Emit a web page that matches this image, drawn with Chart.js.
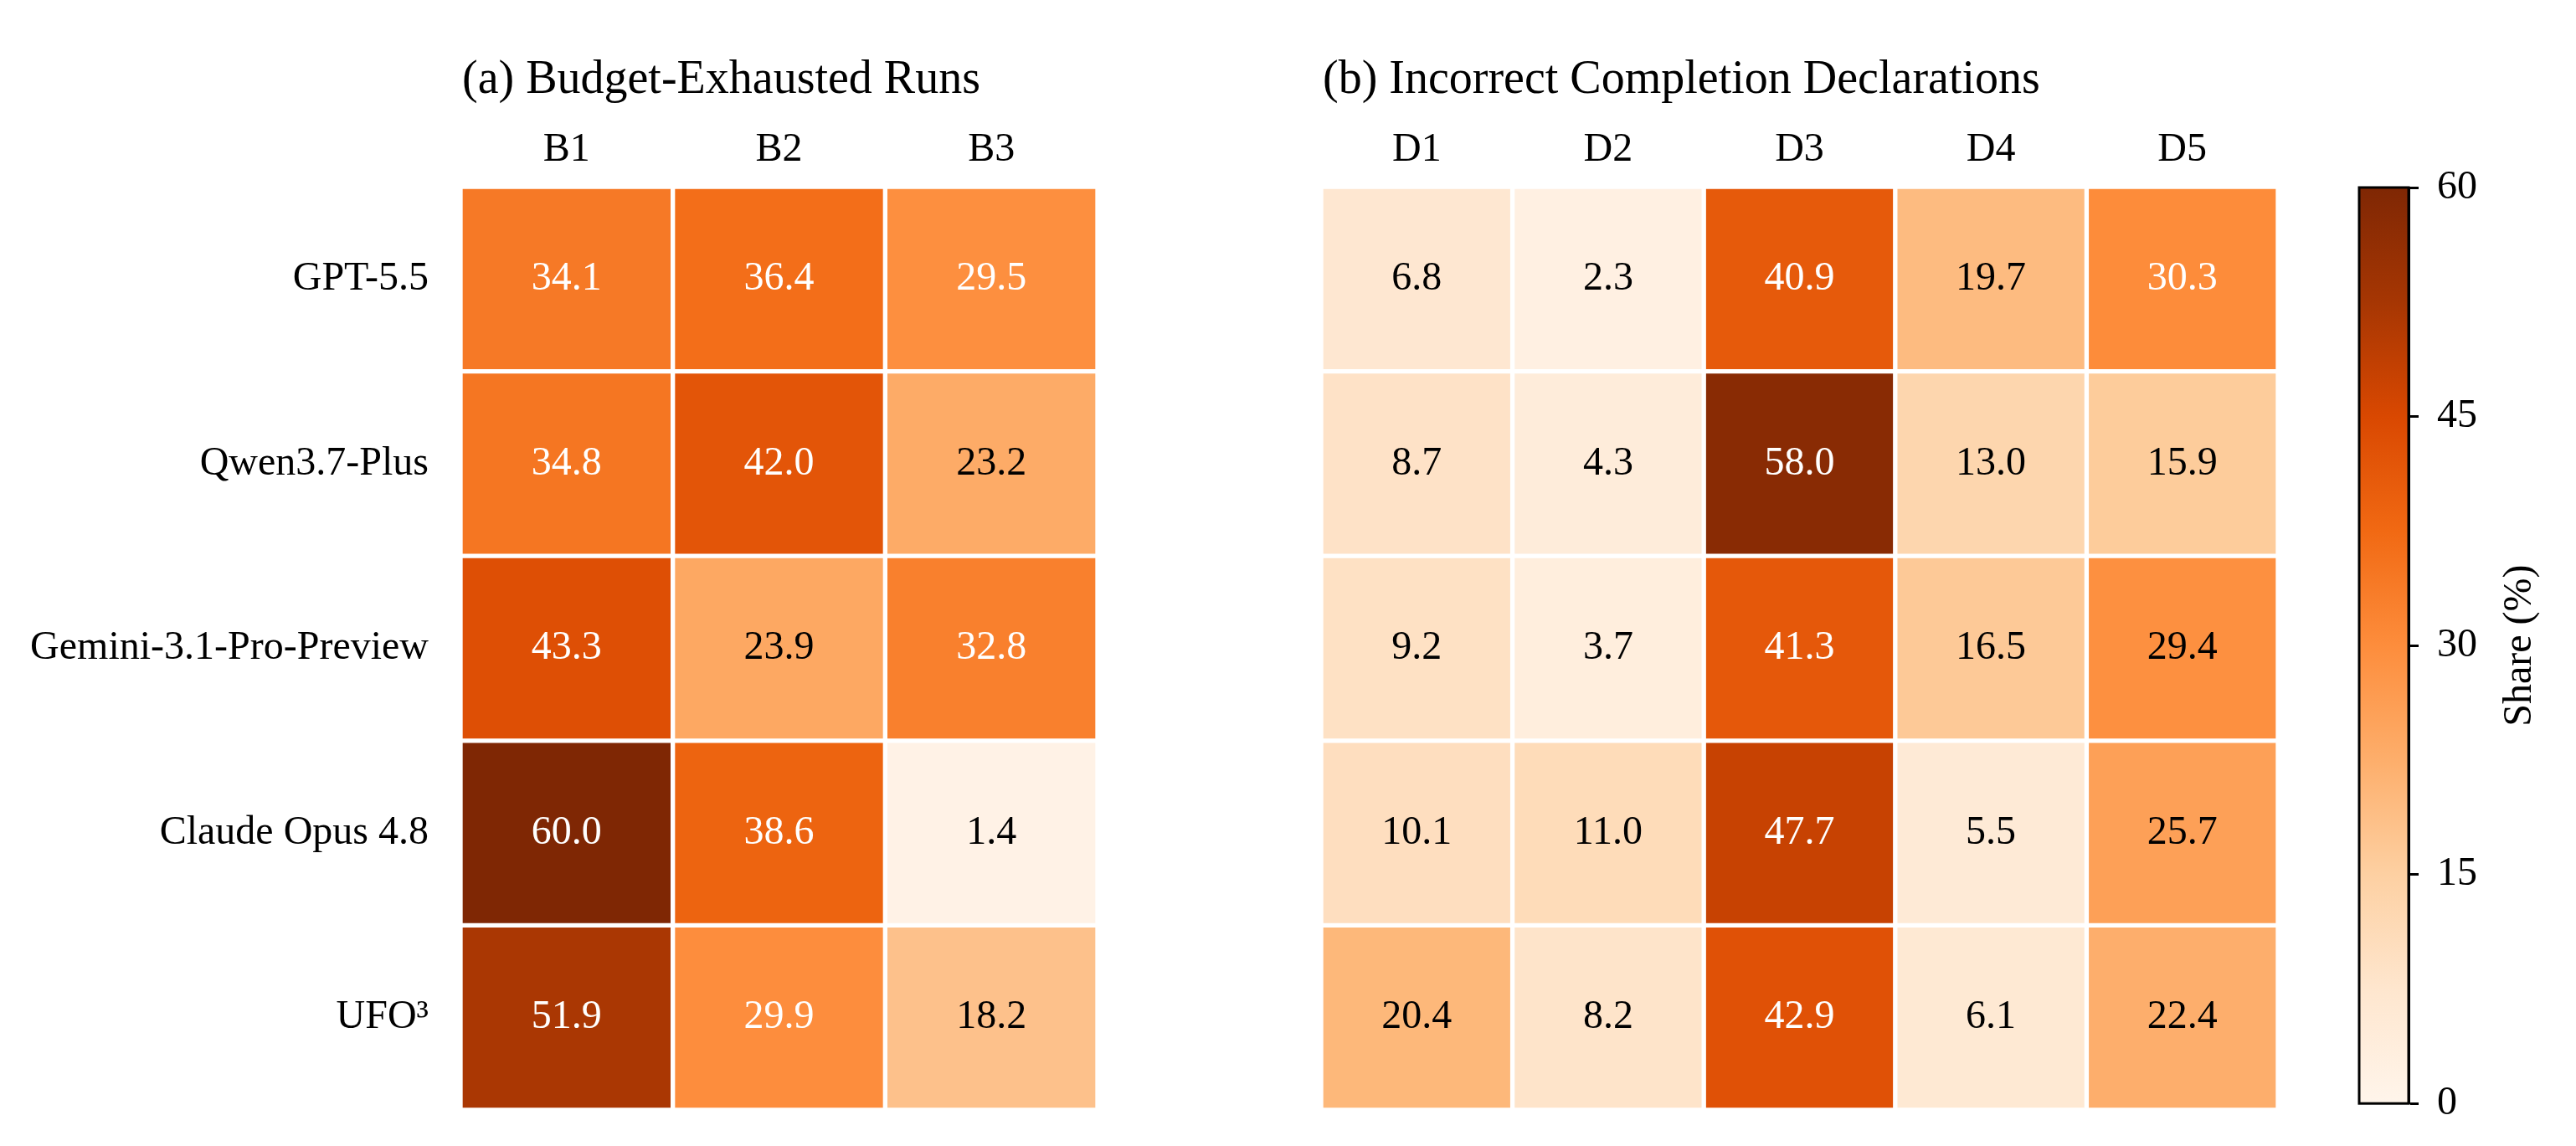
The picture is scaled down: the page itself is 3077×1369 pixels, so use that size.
<!DOCTYPE html>
<html>
<head>
<meta charset="utf-8">
<title>Budget-exhausted runs and incorrect completion declarations</title>
<script src="https://cdn.jsdelivr.net/npm/chart.js@4.4.1/dist/chart.umd.min.js"></script>
<style>
  body { margin: 0; background: #fff; }
  #wrap { position: relative; width: 3077px; height: 1369px; }
  canvas { position: absolute; top: 0; }
</style>
</head>
<body>
<div id="wrap">
  <canvas id="budgetChart" width="1340" height="1369" style="left:0px"></canvas>
  <canvas id="declChart" width="1420" height="1369" style="left:1340px"></canvas>
  <canvas id="cbarChart" width="317" height="1369" style="left:2760px"></canvas>
</div>
<script>
const models = ["GPT-5.5", "Qwen3.7-Plus", "Gemini-3.1-Pro-Preview", "Claude Opus 4.8", "UFO³"];
const budgetCols = ["B1", "B2", "B3"];
const declCols = ["D1", "D2", "D3", "D4", "D5"];
// share (%), one row per model
const budgetShare = [
    [34.1, 36.4, 29.5],
    [34.8, 42.0, 23.2],
    [43.3, 23.9, 32.8],
    [60.0, 38.6, 1.4],
    [51.9, 29.9, 18.2],
];
const declShare = [
    [6.8, 2.3, 40.9, 19.7, 30.3],
    [8.7, 4.3, 58.0, 13.0, 15.9],
    [9.2, 3.7, 41.3, 16.5, 29.4],
    [10.1, 11.0, 47.7, 5.5, 25.7],
    [20.4, 8.2, 42.9, 6.1, 22.4],
];
const shareMin = 0;
const shareMax = 60;
const cbarTicks = [0, 15, 30, 45, 60];

const FONT = "'Liberation Serif', 'Times New Roman', serif";
Chart.defaults.font.family = FONT;
Chart.defaults.color = "#000";

// matplotlib "Oranges"
const ORANGES = ["#fff5eb", "#fee6ce", "#fdd0a2", "#fdae6b", "#fd8d3c", "#f16913", "#d94801", "#a63603", "#7f2704"];

function hexRgb(h) {
    return [1, 3, 5].map((i) => parseInt(h.substr(i, 2), 16));
}
function orange(v) {
    let t = (v - shareMin) / (shareMax - shareMin);
    t = Math.min(1, Math.max(0, t)) * (ORANGES.length - 1);
    const i = Math.min(Math.floor(t), ORANGES.length - 2);
    const f = t - i;
    const a = hexRgb(ORANGES[i]), b = hexRgb(ORANGES[i + 1]);
    const c = a.map((x, k) => Math.round(x + (b[k] - x) * f));
    return "rgb(" + c[0] + "," + c[1] + "," + c[2] + ")";
}
// light text on the darker half of the scale
function textColour(v) {
    return (v - shareMin) / (shareMax - shareMin) > 0.49 ? "#fff" : "#000";
}

const panelTitle = {
    id: "panelTitle",
    afterDraw(chart, args, opts) {
        if (!opts.text) return;
        const ctx = chart.ctx;
        ctx.save();
        ctx.font = "56px " + FONT;
        ctx.fillStyle = "#000";
        ctx.textAlign = "left";
        ctx.textBaseline = "alphabetic";
        ctx.fillText(opts.text, chart.chartArea.left + 2, 111);
        ctx.restore();
    },
};

const cellLabels = {
    id: "cellLabels",
    afterDatasetsDraw(chart) {
        const ctx = chart.ctx;
        ctx.save();
        ctx.font = "48px " + FONT;
        ctx.textAlign = "center";
        ctx.textBaseline = "middle";
        chart.data.datasets.forEach((ds, i) => {
            if (!ds.shares) return;
            chart.getDatasetMeta(i).data.forEach((bar, j) => {
                const p = bar.getProps(["x", "y", "base"], true);
                const v = ds.shares[j];
                ctx.fillStyle = textColour(v);
                ctx.fillText(v.toFixed(1), p.x, (p.y + p.base) / 2);
            });
        });
        ctx.restore();
    },
};

function heatmap(canvasId, cols, shares, title, opts) {
    const datasets = models.map((name, i) => ({
        label: name,
        data: cols.map(() => [i, i + 1]),
        shares: shares[i],
        backgroundColor: shares[i].map(orange),
        borderColor: "#fff",
        borderWidth: 3,
        borderSkipped: false,
        grouped: false,
        barPercentage: 1,
        categoryPercentage: 1,
    }));

    return new Chart(document.getElementById(canvasId), {
        type: "bar",
        data: { labels: cols, datasets: datasets },
        options: {
            responsive: false,
            animation: false,
            layout: { padding: opts.padding },
            plugins: {
                legend: { display: false },
                tooltip: { enabled: false },
                panelTitle: { text: title },
            },
            scales: {
                x: {
                    position: "top",
                    grid: { display: false },
                    border: { display: false },
                    ticks: { font: { size: 48 }, padding: 7, maxRotation: 0 },
                    afterFit: (s) => {
                        s.height = 223;
                        s.paddingLeft = 0;
                        s.paddingRight = 0;
                    },
                },
                y: {
                    display: opts.showRows,
                    min: 0,
                    max: models.length,
                    reverse: true,
                    grid: { display: false },
                    border: { display: false },
                    afterBuildTicks: (s) => {
                        s.ticks = models.map((m, i) => ({ value: i + 0.5 }));
                    },
                    ticks: {
                        font: { size: 48 },
                        padding: 30,
                        callback: (v, idx) => models[idx],
                    },
                    afterFit: (s) => {
                        s.width = opts.rowWidth;
                        s.paddingTop = 0;
                        s.paddingBottom = 0;
                    },
                },
            },
        },
        plugins: [panelTitle, cellLabels],
    });
}

heatmap("budgetChart", budgetCols, budgetShare, "(a) Budget-Exhausted Runs", {
    showRows: true,
    rowWidth: 550,
    padding: { left: 0, right: 29, top: 0, bottom: 43 },
});

heatmap("declChart", declCols, declShare, "(b) Incorrect Completion Declarations", {
    showRows: false,
    rowWidth: 0,
    padding: { left: 238, right: 39, top: 0, bottom: 43 },
});

// colour bar
const cbarFrame = {
    id: "cbarFrame",
    afterDraw(chart) {
        const a = chart.chartArea;
        const ctx = chart.ctx;
        ctx.save();
        ctx.strokeStyle = "#000";
        ctx.lineWidth = 3;
        ctx.strokeRect(a.left, a.top, a.right - a.left, a.bottom - a.top);
        ctx.font = "48px " + FONT;
        ctx.fillStyle = "#000";
        ctx.textAlign = "center";
        ctx.textBaseline = "middle";
        ctx.translate(250, (a.top + a.bottom) / 2);
        ctx.rotate(-Math.PI / 2);
        ctx.fillText("Share (%)", 0, 0);
        ctx.restore();
    },
};

new Chart(document.getElementById("cbarChart"), {
    type: "bar",
    data: {
        labels: [""],
        datasets: [{
            data: [[shareMin, shareMax]],
            backgroundColor: (c) => {
                const a = c.chart.chartArea;
                if (!a) return ORANGES[4];
                const g = c.chart.ctx.createLinearGradient(0, a.bottom, 0, a.top);
                ORANGES.forEach((col, i) => g.addColorStop(i / (ORANGES.length - 1), col));
                return g;
            },
            borderWidth: 0,
            barPercentage: 1,
            categoryPercentage: 1,
        }],
    },
    options: {
        responsive: false,
        animation: false,
        layout: { padding: { left: 58, right: 0, top: 224, bottom: 43 } },
        plugins: { legend: { display: false }, tooltip: { enabled: false } },
        scales: {
            x: { display: false },
            y: {
                position: "right",
                min: shareMin,
                max: shareMax,
                afterBuildTicks: (s) => {
                    s.ticks = cbarTicks.map((v) => ({ value: v }));
                },
                grid: { drawOnChartArea: false, tickLength: 12, tickWidth: 3, tickColor: "#000" },
                border: { color: "#000", width: 3 },
                ticks: { font: { size: 48 }, padding: 22 },
                afterFit: (s) => { s.width = 200; },
            },
        },
    },
    plugins: [cbarFrame],
});
</script>
</body>
</html>
